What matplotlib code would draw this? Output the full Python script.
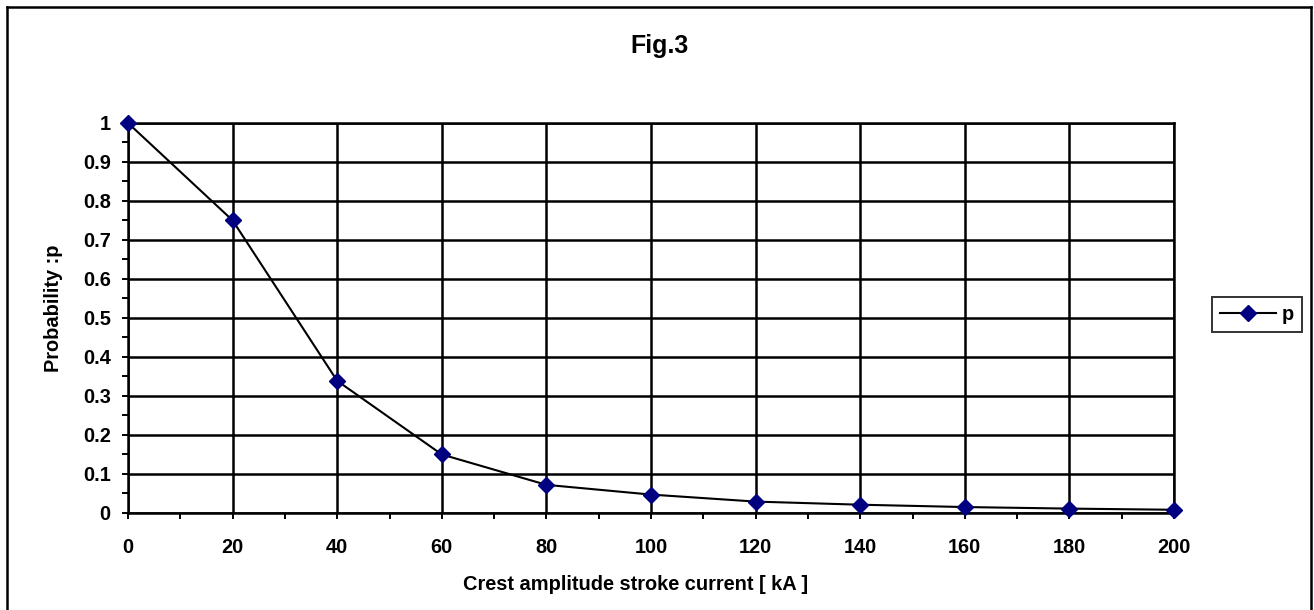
import matplotlib
matplotlib.use("Agg")
import matplotlib.pyplot as plt
from matplotlib.lines import Line2D
from matplotlib.ticker import MultipleLocator, FuncFormatter

# crest amplitude of stroke current [kA] and probability of exceeding it
current_ka = [0, 20, 40, 60, 80, 100, 120, 140, 160, 180, 200]
probability = [1.0, 0.75, 0.338, 0.149, 0.071, 0.046, 0.028, 0.020, 0.014, 0.010, 0.007]

W, H = 1314, 610
FS = 14.4

plt.rcParams["font.family"] = ["Liberation Sans", "DejaVu Sans"]
plt.rcParams["font.weight"] = "bold"

fig = plt.figure(figsize=(W / 100, H / 100), dpi=100)
ax = fig.add_axes([128 / W, 1 - 512.5 / H, (1174 - 128) / W, (512.5 - 123) / H])

lw = 1.8
ax.plot(current_ka, probability, color="black", lw=1.5, marker="D", ms=8,
        mfc="#000080", mec="#000080", label="p", clip_on=False, zorder=5)

ax.set_xlim(0, 200)
ax.set_ylim(0, 1)
ax.xaxis.set_major_locator(MultipleLocator(20))
ax.xaxis.set_minor_locator(MultipleLocator(10))
ax.yaxis.set_major_locator(MultipleLocator(0.1))
ax.yaxis.set_minor_locator(MultipleLocator(0.05))
ax.yaxis.set_major_formatter(FuncFormatter(lambda v, _: f"{v:g}"))

ax.grid(True, which="major", color="black", lw=lw)
for s in ax.spines.values():
    s.set_linewidth(lw)
    s.set_color("black")

ax.tick_params(axis="both", which="both", direction="out", length=4.5, width=1.4,
               color="black", labelsize=FS)
ax.tick_params(axis="x", which="major", pad=14)
ax.tick_params(axis="y", which="major", pad=8)
for lab in ax.get_xticklabels() + ax.get_yticklabels():
    lab.set_fontweight("bold")

fig.text(659 / W, 1 - 53 / H, "Fig.3", ha="center", va="baseline",
         fontsize=18, fontweight="bold")
fig.text(636 / W, 1 - 585 / H, "Crest amplitude stroke current [ kA ]",
         ha="center", va="center", fontsize=FS, fontweight="bold")
fig.text(53.5 / W, 1 - 308 / H, "Probability :p", ha="center", va="center",
         rotation=90, fontsize=FS, fontweight="bold")

leg = fig.legend(loc="center left", bbox_to_anchor=(1212 / W, 1 - 314 / H),
                 borderaxespad=0, fancybox=False, frameon=True,
                 prop={"size": FS, "weight": "bold"},
                 borderpad=0.4, handlelength=2.8, handletextpad=0.3)
leg.get_frame().set_edgecolor("black")
leg.get_frame().set_linewidth(1.4)

# outer chart border (bottom edge lies below the image)
for xs, ys in [([7 / W, 7 / W], [-0.1, 1 - 7 / H]),
               ([7 / W, 1311 / W], [1 - 7 / H, 1 - 7 / H]),
               ([1311 / W, 1311 / W], [1 - 7 / H, -0.1])]:
    fig.add_artist(Line2D(xs, ys, color="black", lw=1.8, transform=fig.transFigure))

fig.savefig("out.png", dpi=100)
